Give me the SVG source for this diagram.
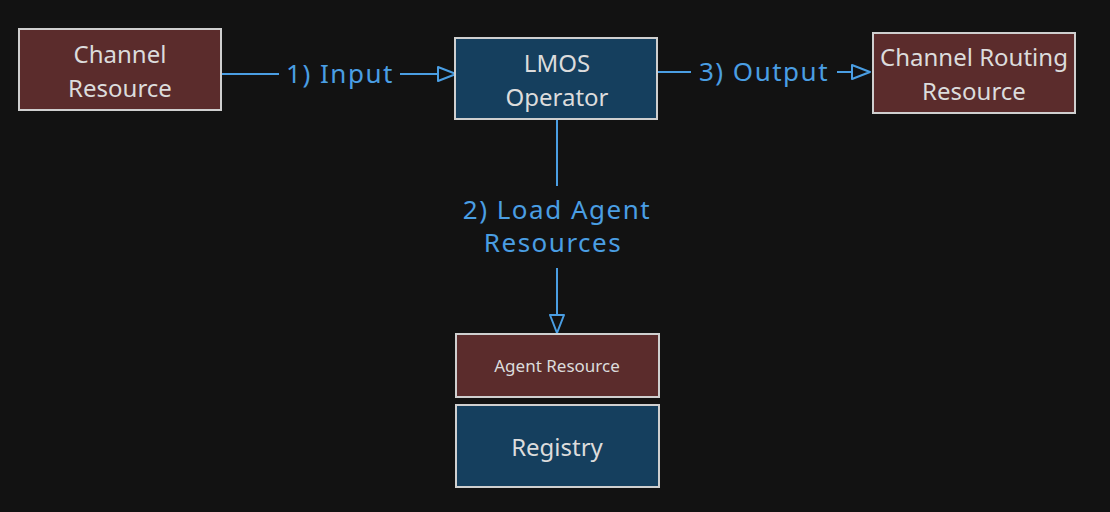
<svg xmlns="http://www.w3.org/2000/svg" width="1110" height="512" viewBox="0 0 1110 512">
<style>
.node rect{stroke:#cfcfcf;stroke-width:2}
.brown{fill:#5b2c2c}
.blue{fill:#153f5e}
.nt{font-family:"Noto Sans",Lato,sans-serif;fill:#dcdcdc;text-anchor:middle;dominant-baseline:central;font-size:24px}
.edge{stroke:#4a9ee3;stroke-width:2;fill:none}
.lbl{font-family:"Noto Sans",sans-serif;font-size:26px;letter-spacing:1.5px;fill:#4a9ee3;text-anchor:middle;dominant-baseline:central}
</style>
<defs>
<marker id="arr" viewBox="0 0 20 16" refX="19" refY="8" markerWidth="20" markerHeight="16" markerUnits="userSpaceOnUse" orient="auto">
<path d="M1,1 L19,8 L1,15 Z" fill="#121212" stroke="#4a9ee3" stroke-width="2" stroke-linejoin="round"/>
</marker>
</defs>
<rect width="1110" height="512" fill="#121212"/>
<g id="connectors">
<path class="edge" d="M222,74 L279,74"/>
<path class="edge" d="M400,74 L456,74" marker-end="url(#arr)"/>
<text class="lbl" x="340" y="73">1) Input</text>
<path class="edge" d="M658,72 L691,72"/>
<path class="edge" d="M837,72 L870,72" marker-end="url(#arr)"/>
<text class="lbl" x="764" y="71">3) Output</text>
<path class="edge" d="M557,120 L557,186"/>
<path class="edge" d="M557,268 L557,333" marker-end="url(#arr)"/>
<text class="lbl" x="557" y="209">2) Load Agent</text>
<text class="lbl" x="553" y="242">Resources</text>
</g>
<g id="channel-resource" class="node">
<rect class="brown" x="19" y="29" width="202" height="81"/>
<text class="nt" x="120" y="53">Channel</text>
<text class="nt" x="120" y="87">Resource</text>
</g>
<g id="lmos-operator" class="node">
<rect class="blue" x="455" y="38" width="202" height="81"/>
<text class="nt" x="557" y="62">LMOS</text>
<text class="nt" x="557" y="96">Operator</text>
</g>
<g id="channel-routing-resource" class="node">
<rect class="brown" x="873" y="33" width="202" height="80"/>
<text class="nt" x="974" y="56">Channel Routing</text>
<text class="nt" x="974" y="90">Resource</text>
</g>
<g id="agent-resource" class="node">
<rect class="brown" x="456" y="334" width="203" height="63"/>
<text class="nt" x="557" y="365" style="font-size:17px">Agent Resource</text>
</g>
<g id="registry" class="node">
<rect class="blue" x="456" y="405" width="203" height="82"/>
<text class="nt" x="557" y="446">Registry</text>
</g>
</svg>
